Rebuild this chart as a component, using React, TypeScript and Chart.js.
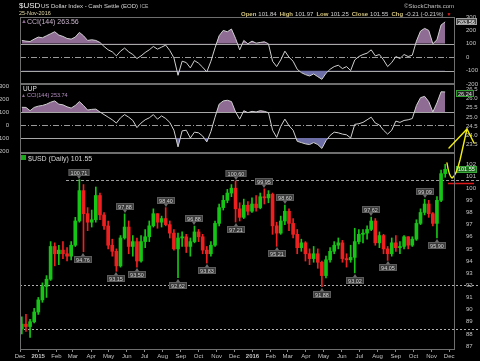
import React, { useEffect, useRef } from "react";
import { Chart, registerables } from "chart.js";

Chart.register(...registerables);

// ---------------- data ----------------
const startUTC = Date.UTC(2014, 11, 1); // week 0 = Mon 1 Dec 2014
const xMaxWeeks = 105.84;
const monthLabels = [
  "Dec", "2015", "Feb", "Mar", "Apr", "May", "Jun", "Jul", "Aug", "Sep", "Oct", "Nov",
  "Dec", "2016", "Feb", "Mar", "Apr", "May", "Jun", "Jul", "Aug", "Sep", "Oct", "Nov", "Dec",
];

// weekly OHLC of $USD
const usdOpen = [
  88.4, 88.8, 88.6, 89.0, 89.8, 90.8, 91.9, 92.5, 95.2, 94.6,
  94.9, 94.6, 94.4, 95.3, 97.3, 99.8, 97.9, 97.2, 97.4, 99.4,
  97.8, 96.9, 95.3, 94.8, 93.6, 95.9, 96.8, 95.2, 95.6, 94.0,
  95.6, 96.0, 96.9, 97.9, 97.2, 97.5, 97.0, 96.3, 95.0, 95.9,
  96.0, 95.2, 95.6, 96.4, 96.0, 94.9, 94.6, 95.3, 97.1, 98.4,
  99.0, 99.6, 100.0, 98.3, 97.6, 98.6, 98.1, 98.7, 98.4, 99.3,
  99.2, 99.5, 96.9, 96.3, 97.3, 98.1, 97.1, 96.2, 95.1, 95.5,
  94.6, 94.2, 94.6, 93.9, 92.8, 94.1, 94.8, 95.3, 95.5, 94.2,
  94.1, 94.3, 95.6, 96.2, 96.3, 96.6, 97.3, 95.5, 96.1, 95.0,
  94.6, 95.5, 95.1, 95.2, 96.0, 95.3, 95.8, 97.1, 98.0, 98.7,
  97.9, 97.1, 99.0, 101.2,
];
const usdHigh = [
  89.4, 89.6, 89.2, 90.1, 91.0, 92.2, 92.8, 95.6, 95.5, 95.3,
  95.6, 95.1, 95.6, 97.6, 100.71, 100.3, 98.4, 98.2, 100.1, 99.6,
  98.0, 97.3, 95.8, 95.0, 96.1, 97.88, 97.3, 96.1, 95.9, 96.1,
  96.6, 97.3, 98.3, 97.9, 97.7, 98.4, 97.3, 96.6, 96.3, 96.4,
  96.2, 95.9, 96.88, 96.6, 96.2, 95.2, 95.6, 97.3, 98.7, 99.4,
  99.9, 100.3, 100.6, 98.8, 99.1, 98.9, 99.2, 99.4, 99.6, 99.95,
  99.8, 99.6, 97.2, 97.7, 98.6, 98.3, 97.5, 96.6, 95.8, 95.6,
  95.0, 95.2, 95.0, 94.0, 94.4, 95.1, 95.6, 95.9, 95.7, 94.6,
  95.3, 96.7, 96.6, 96.6, 96.9, 97.62, 97.5, 96.4, 96.2, 95.2,
  95.9, 96.1, 95.6, 96.1, 96.0, 96.0, 97.4, 98.3, 99.09, 99.0,
  98.0, 99.3, 101.5, 101.97,
];
const usdLow = [
  88.0, 88.2, 87.7, 88.9, 89.6, 90.6, 91.0, 92.4, 93.6, 93.7,
  94.2, 94.0, 94.1, 95.2, 97.2, 94.76, 96.5, 96.8, 97.2, 97.4,
  96.6, 95.0, 94.4, 93.15, 93.5, 95.8, 94.6, 94.4, 93.5, 93.9,
  95.1, 95.6, 96.8, 96.7, 96.8, 96.9, 95.9, 94.9, 92.62, 95.2,
  94.7, 94.4, 95.5, 95.6, 94.6, 93.83, 94.4, 95.2, 96.9, 98.2,
  98.8, 99.3, 97.21, 97.3, 97.5, 97.8, 98.0, 98.1, 98.3, 98.7,
  98.8, 96.2, 95.21, 96.2, 97.0, 96.5, 95.9, 94.6, 94.8, 94.0,
  93.7, 93.9, 93.4, 91.88, 92.6, 93.9, 94.6, 95.0, 93.9, 93.5,
  93.9, 93.02, 95.4, 95.5, 95.8, 96.5, 95.3, 95.1, 94.6, 94.05,
  94.4, 94.8, 94.6, 95.0, 95.0, 95.2, 95.7, 97.0, 97.8, 97.6,
  96.9, 95.9, 98.9, 100.9,
];
const usdClose = [
  88.8, 88.6, 89.0, 89.8, 90.8, 91.9, 92.5, 95.2, 94.6, 94.9,
  94.6, 94.4, 95.3, 97.3, 99.8, 97.9, 97.2, 97.4, 99.4, 97.8,
  96.9, 95.3, 94.8, 93.6, 95.9, 96.8, 95.2, 95.6, 94.0, 95.6,
  96.0, 96.9, 97.9, 97.2, 97.5, 97.0, 96.3, 95.0, 95.9, 96.0,
  95.2, 95.6, 96.4, 96.0, 94.9, 94.6, 95.3, 97.1, 98.4, 99.0,
  99.6, 100.0, 98.3, 97.6, 98.6, 98.1, 98.7, 98.4, 99.3, 99.2,
  99.5, 96.9, 96.3, 97.3, 98.1, 97.1, 96.2, 95.1, 95.5, 94.6,
  94.2, 94.6, 93.9, 92.8, 94.1, 94.8, 95.3, 95.5, 94.2, 94.1,
  94.3, 95.6, 96.2, 96.3, 96.6, 97.3, 95.5, 96.1, 95.0, 94.6,
  95.5, 95.1, 95.2, 96.0, 95.3, 95.8, 97.1, 98.0, 98.7, 97.9,
  97.1, 99.0, 101.2, 101.55,
];

// CCI(144) of $USD, weekly samples
const usdCci = [
  125, 120, 117, 135, 150, 145, 160, 175, 190, 165,
  155, 140, 135, 150, 185, 160, 125, 130, 125, 110,
  80, 55, 40, 10, 45, 68, 40, 20, -10, 10,
  35, 55, 80, 60, 75, 90, 50, -5, -135, -30,
  -40, -80, -25, -45, -75, -110, -30, 70, 160, 200,
  190, 210, 140, 55, 125, 100, 120, 105, 110, 115,
  100, -30, -70, -20, 45, 0, -30, -90, -115, -130,
  -140, -125, -145, -165, -120, -90, -70, -60, -85, -70,
  -100, -20, 5, 20, 30, 55, 10, 20, -20, -70,
  -40, 5, -10, 20, 5, 15, 120, 195, 215, 200,
  100, 130, 240, 263.56,
];
// CCI(144) of UUP, weekly samples
const uupCci = [
  136, 135, 110, 135, 145, 150, 160, 175, 185, 160,
  155, 140, 130, 150, 180, 150, 115, 120, 122, 100,
  80, 60, 40, 15, 55, 80, 60, 35, -20, 15,
  40, 55, 80, 45, 70, 50, 20, -40, -168, -45,
  -40, -100, -55, -60, -85, -130, -50, 60, 160, 185,
  190, 180, 100, 45, 110, 95, 105, 100, 110, 105,
  95, -40, -95, -10, 45, -5, -40, -125, -135, -145,
  -150, -135, -150, -180, -120, -80, -55, -60, -70, -75,
  -100, 5, 10, 20, 40, 60, 15, 0, -40, -70,
  -40, 30, 20, 35, 40, 50, 150, 210, 220, 180,
  100, 170, 255, 253.74,
];

const cciTicks = [-200, -100, 0, 100, 200, 300];
const cciBands = [100, -100];
const uupPriceTicks = [23.5, 24.0, 24.5, 25.0, 25.5, 26.0, 26.5];
const uupLast = 26.24;
const priceTicks = [87, 88, 89, 90, 91, 92, 93, 94, 95, 96, 97, 98, 99, 100, 101, 102];
const dottedLevels = [92.0, 88.4];
const resistanceLevel = 100.71;
const resistanceStartWeek = 11.2;

const peakWeeks = [14, 25, 35, 42, 52, 59, 64, 85, 98];
const peakTexts = ["100.71", "97.88", "98.40", "96.88", "100.60", "99.95", "98.60", "97.62", "99.09"];
const troughWeeks = [15, 23, 28, 38, 45, 52, 62, 73, 81, 89, 101];
const troughTexts = ["94.76", "93.15", "93.50", "92.62", "93.83", "97.21", "95.21", "91.88", "93.02", "94.05", "95.90"];

const quoteLabels = ["Open", "High", "Low", "Close", "Chg"];
const quoteValues = ["101.84", "101.97", "101.25", "101.55", "-0.21 (-0.21%)"];

// ---------------- styling ----------------
const FONT = "'Liberation Sans', Arial, sans-serif";
const TICK_COLOR = "#c4c4c4";
const FRAME = "#6e6e6e";
const UP = "#16c516";
const DOWN = "#ee2020";
const PURPLE = "#8e6c94";
const BLUE = "#6e6ea6";

const weekX = (i: number) => i + 0.45;
const monthTickValues = monthLabels.map(
  (_, k) => (Date.UTC(2014, 11 + k, 1) - startUTC) / (7 * 864e5)
);

const cciPoints = (arr: number[]) => arr.map((v, i) => ({ x: weekX(i), y: v }));

const framePlugin = {
  id: "frame",
  afterDraw(chart: any) {
    const { ctx, chartArea: a } = chart;
    ctx.save();
    ctx.strokeStyle = FRAME;
    ctx.lineWidth = 1;
    ctx.strokeRect(Math.round(a.left) + 0.5, Math.round(a.top) + 0.5, Math.round(a.right - a.left) - 1, Math.round(a.bottom - a.top) - 1);
    ctx.restore();
  },
};

const cciLinesPlugin = {
  id: "cciLines",
  beforeDatasetsDraw(chart: any) {
    const { ctx, chartArea: a, scales } = chart;
    const y = scales.y;
    ctx.save();
    ctx.lineWidth = 1;
    ctx.strokeStyle = "#a8a8a8";
    cciBands.forEach((v) => {
      const py = Math.round(y.getPixelForValue(v)) + 0.5;
      ctx.beginPath();
      ctx.moveTo(a.left, py);
      ctx.lineTo(a.right, py);
      ctx.stroke();
    });
    ctx.strokeStyle = "#9a9a9a";
    ctx.setLineDash([6, 2, 1, 2]);
    const pz = Math.round(y.getPixelForValue(0)) + 0.5;
    ctx.beginPath();
    ctx.moveTo(a.left, pz);
    ctx.lineTo(a.right, pz);
    ctx.stroke();
    ctx.restore();
  },
};

function valueBox(ctx: any, text: string, x: number, cy: number, bg: string, border: string, fg: string) {
  ctx.save();
  ctx.font = `5.5px ${FONT}`;
  const w = Math.round(ctx.measureText(text).width + 4);
  const h = 7;
  ctx.fillStyle = bg;
  ctx.fillRect(x, Math.round(cy - h / 2), w, h);
  ctx.strokeStyle = border;
  ctx.lineWidth = 1;
  ctx.strokeRect(x + 0.5, Math.round(cy - h / 2) + 0.5, w - 1, h - 1);
  ctx.fillStyle = fg;
  ctx.textBaseline = "middle";
  ctx.textAlign = "left";
  ctx.fillText(text, x + 2, cy + 0.5);
  ctx.restore();
}

const cciBoxPlugin = (text: string, value: number, axis: string, bg: string, border: string, fg: string) => ({
  id: "cciBox" + axis,
  afterDraw(chart: any) {
    const s = chart.scales[axis];
    valueBox(chart.ctx, text, 456, s.getPixelForValue(value), bg, border, fg);
  },
});

const pricePlugin = {
  id: "priceDecor",
  beforeDatasetsDraw(chart: any) {
    const { ctx, chartArea: a, scales } = chart;
    const { x, y } = scales;
    ctx.save();
    ctx.lineWidth = 1;
    ctx.strokeStyle = "#b0b0b0";
    ctx.setLineDash([2, 2]);
    dottedLevels.forEach((v) => {
      const py = Math.round(y.getPixelForValue(v)) + 0.5;
      ctx.beginPath();
      ctx.moveTo(a.left, py);
      ctx.lineTo(480, py);
      ctx.stroke();
    });
    ctx.setLineDash([3, 2]);
    ctx.strokeStyle = "#a0a0a0";
    const pr = Math.round(y.getPixelForValue(resistanceLevel)) + 0.5;
    ctx.beginPath();
    ctx.moveTo(x.getPixelForValue(resistanceStartWeek), pr);
    ctx.lineTo(480, pr);
    ctx.stroke();
    ctx.restore();
  },
  afterDatasetsDraw(chart: any) {
    const { ctx, scales } = chart;
    const { x, y } = scales;
    ctx.save();
    ctx.font = `5.5px ${FONT}`;
    const draw = (week: number, text: string, up: boolean) => {
      const px = Math.round(x.getPixelForValue(weekX(week)));
      const py = Math.round(y.getPixelForValue(up ? usdHigh[week] : usdLow[week]));
      const bw = Math.round(ctx.measureText(text).width + 4);
      const bh = 7;
      const by = up ? py - 4 - bh : py + 4;
      ctx.fillStyle = "#6a6a6a";
      ctx.beginPath();
      if (up) {
        ctx.moveTo(px - 2, py - 4);
        ctx.lineTo(px + 2, py - 4);
        ctx.lineTo(px, py - 1);
      } else {
        ctx.moveTo(px - 2, py + 4);
        ctx.lineTo(px + 2, py + 4);
        ctx.lineTo(px, py + 1);
      }
      ctx.fill();
      ctx.fillStyle = "#3a3a3a";
      ctx.fillRect(px - bw / 2, by, bw, bh);
      ctx.strokeStyle = "#5c5c5c";
      ctx.strokeRect(px - bw / 2 + 0.5, by + 0.5, bw - 1, bh - 1);
      ctx.fillStyle = "#d2d2d2";
      ctx.textAlign = "center";
      ctx.textBaseline = "middle";
      ctx.fillText(text, px, by + bh / 2 + 0.5);
    };
    peakWeeks.forEach((w, i) => draw(w, peakTexts[i], true));
    troughWeeks.forEach((w, i) => draw(w, troughTexts[i], false));
    ctx.restore();
  },
  afterDraw(chart: any) {
    const { ctx, scales } = chart;
    const last = usdClose[usdClose.length - 1];
    valueBox(ctx, last.toFixed(2), 456, scales.y.getPixelForValue(last), "#1d6e1d", "#3aa83a", "#ffffff");
    // hand-drawn annotations
    ctx.save();
    ctx.strokeStyle = "#e01818";
    ctx.lineWidth = 1.5;
    ctx.beginPath();
    ctx.moveTo(448, 183.5);
    ctx.lineTo(474, 183.5);
    ctx.stroke();
    ctx.strokeStyle = "#f2ee10";
    ctx.lineWidth = 1.4;
    ctx.lineJoin = "round";
    ctx.lineCap = "round";
    ctx.beginPath();
    ctx.moveTo(447, 163);
    ctx.quadraticCurveTo(449, 176, 452, 178);
    ctx.quadraticCurveTo(456, 176, 460, 160);
    ctx.lineTo(467, 129);
    ctx.stroke();
    ctx.beginPath();
    ctx.moveTo(449, 148);
    ctx.lineTo(467, 129);
    ctx.lineTo(474, 143);
    ctx.stroke();
    ctx.restore();
  },
};

const tickFont = { family: FONT, size: 6 };

function fixedWidth(w: number) {
  return (s: any) => {
    s.width = w;
  };
}

function baseOptions(padding: any) {
  return {
    responsive: false,
    animation: false,
    devicePixelRatio: 1,
    events: [],
    plugins: { legend: { display: false }, tooltip: { enabled: false } },
    layout: { padding },
  };
}

function cciDatasets(arr: number[]) {
  return [
    {
      data: cciPoints(arr),
      borderColor: "#d0d0d0",
      borderWidth: 1,
      pointRadius: 0,
      tension: 0,
      yAxisID: "y",
      fill: { target: { value: 100 }, above: PURPLE, below: "rgba(0,0,0,0)" },
      order: 1,
    },
    {
      data: cciPoints(arr),
      borderColor: "rgba(0,0,0,0)",
      borderWidth: 0,
      pointRadius: 0,
      tension: 0,
      yAxisID: "y",
      fill: { target: { value: -100 }, above: "rgba(0,0,0,0)", below: BLUE },
      order: 2,
    },
  ];
}

function cfgA(): any {
  return {
    type: "line",
    data: { datasets: cciDatasets(usdCci) },
    options: {
      ...baseOptions({ left: 20, right: 0, top: 17, bottom: 277 }),
      scales: {
        x: { type: "linear", min: 0, max: xMaxWeeks, display: false },
        y: {
          position: "right",
          min: -200,
          max: 300,
          afterBuildTicks: (s: any) => {
            s.ticks = cciTicks.map((v) => ({ value: v }));
          },
          afterFit: fixedWidth(25),
          grid: { display: false },
          border: { display: false },
          ticks: { color: TICK_COLOR, font: tickFont, padding: 3, callback: (v: number) => String(v) },
        },
      },
    },
    plugins: [cciLinesPlugin, framePlugin, cciBoxPlugin("263.56", 263.56, "y", "#4a4a4a", "#a0a0a0", "#ffffff")],
  };
}

function cfgB(): any {
  return {
    type: "line",
    data: { datasets: cciDatasets(uupCci) },
    options: {
      ...baseOptions({ left: 0, right: 0, top: 84, bottom: 208 }),
      scales: {
        x: { type: "linear", min: 0, max: xMaxWeeks, display: false },
        y: {
          position: "left",
          min: -215,
          max: 315,
          afterBuildTicks: (s: any) => {
            s.ticks = cciTicks.map((v) => ({ value: v }));
          },
          afterFit: fixedWidth(20),
          grid: { display: false },
          border: { display: false },
          ticks: { color: TICK_COLOR, font: tickFont, padding: 3, callback: (v: number) => String(v) },
        },
        y2: {
          position: "right",
          min: 23.06,
          max: 26.77,
          afterBuildTicks: (s: any) => {
            s.ticks = uupPriceTicks.map((v) => ({ value: v }));
          },
          afterFit: fixedWidth(25),
          grid: { display: false },
          border: { display: false },
          ticks: { color: TICK_COLOR, font: tickFont, padding: 3, callback: (v: number) => v.toFixed(1) },
        },
      },
    },
    plugins: [cciLinesPlugin, framePlugin, cciBoxPlugin(uupLast.toFixed(2), uupLast, "y2", "#202020", "#30a030", "#e0e0e0")],
  };
}

function cfgC(): any {
  const colors = usdClose.map((c, i) => (c >= usdOpen[i] ? UP : DOWN));
  return {
    type: "bar",
    data: {
      datasets: [
        {
          data: usdClose.map((_, i) => ({ x: weekX(i), y: [usdLow[i], usdHigh[i]] })),
          backgroundColor: colors,
          borderWidth: 0,
          barThickness: 1,
          grouped: false,
        },
        {
          data: usdClose.map((_, i) => ({ x: weekX(i), y: [usdOpen[i], usdClose[i]] })),
          backgroundColor: colors,
          borderWidth: 0,
          barThickness: 3,
          minBarLength: 1,
          grouped: false,
        },
      ],
    },
    options: {
      ...baseOptions({ left: 20, right: 0, top: 153, bottom: 0 }),
      scales: {
        x: {
          type: "linear",
          min: 0,
          max: xMaxWeeks,
          offset: false,
          afterBuildTicks: (s: any) => {
            s.ticks = monthTickValues.map((v) => ({ value: v }));
          },
          afterFit: (s: any) => {
            s.height = 11;
          },
          grid: { display: true, drawOnChartArea: false, offset: false, tickLength: 2, color: "#8a8a8a" },
          border: { display: false },
          ticks: {
            color: TICK_COLOR,
            autoSkip: false,
            maxRotation: 0,
            minRotation: 0,
            padding: 1,
            font: (c: any) => ({
              family: FONT,
              size: 6,
              weight: /^\d{4}$/.test(monthLabels[c.index] || "") ? "bold" : "normal",
            }),
            callback: (_v: number, i: number) => monthLabels[i],
          },
        },
        y: {
          position: "right",
          min: 86.67,
          max: 102.9,
          afterBuildTicks: (s: any) => {
            s.ticks = priceTicks.map((v) => ({ value: v }));
          },
          afterFit: fixedWidth(25),
          grid: { display: false },
          border: { display: false },
          ticks: { color: TICK_COLOR, font: tickFont, padding: 3, callback: (v: number) => String(v) },
        },
      },
    },
    plugins: [pricePlugin, framePlugin],
  };
}

const txt = (left: number, top: number, size: number, color: string, extra: any = {}) => ({
  position: "absolute" as const,
  left,
  top,
  fontSize: size,
  color,
  fontFamily: FONT,
  lineHeight: 1,
  whiteSpace: "nowrap" as const,
  ...extra,
});

export default function App() {
  const refA = useRef<HTMLCanvasElement>(null);
  const refB = useRef<HTMLCanvasElement>(null);
  const refC = useRef<HTMLCanvasElement>(null);

  useEffect(() => {
    const charts = [
      new Chart(refA.current as HTMLCanvasElement, cfgA()),
      new Chart(refB.current as HTMLCanvasElement, cfgB()),
      new Chart(refC.current as HTMLCanvasElement, cfgC()),
    ];
    return () => charts.forEach((c) => c.destroy());
  }, []);

  const cv = { position: "absolute" as const, left: 0, top: 0, width: 480, height: 361 };

  return (
    <div style={{ position: "fixed", left: 0, top: 0, width: 480, height: 361, background: "#000", overflow: "hidden" }}>
      <canvas ref={refA} width={480} height={361} style={cv} />
      <canvas ref={refB} width={480} height={361} style={cv} />
      <canvas ref={refC} width={480} height={361} style={cv} />

      <div style={txt(19, 1.5, 8, "#f0f0f0")}>$USD</div>
      <div style={txt(41, 3, 6, "#d8d8d8")}>US Dollar Index - Cash Settle (EOD)</div>
      <div style={txt(140, 3.5, 5, "#b8b8b8")}>ICE</div>
      <div style={txt(19, 11, 5.5, "#e2d9a8")}>25-Nov-2016</div>
      <div style={txt(404, 3, 6, "#c0c0c0")}>©StockCharts.com</div>

      <div style={txt(241, 11, 6, "#d0d0d0")}>
        {quoteLabels.map((l, i) => (
          <span key={l} style={{ marginRight: 3 }}>
            <span style={{ fontWeight: "bold", color: "#d4c57e", marginRight: 2 }}>{l}</span>
            <span>{quoteValues[i]}</span>
          </span>
        ))}
        <span style={{ color: "#ee2020", fontSize: 5 }}>▼</span>
      </div>

      <div style={txt(21, 18, 6, PURPLE)}>▲</div>
      <div style={txt(27, 18, 7, "#c8b2cc")}>CCI(144) 263.56</div>

      <div style={txt(23, 86, 6.5, "#e0e0e0")}>UUP</div>
      <div style={txt(21, 93, 5, PURPLE)}>▲</div>
      <div style={txt(27, 93, 5.5, "#b48cc0")}>CCI(144) 253.74</div>

      <div style={{ position: "absolute", left: 21, top: 155, width: 5, height: 5, background: "#18a818" }} />
      <div style={txt(28, 154.5, 7, "#d4d4d4")}>$USD (Daily) 101.55</div>
    </div>
  );
}
